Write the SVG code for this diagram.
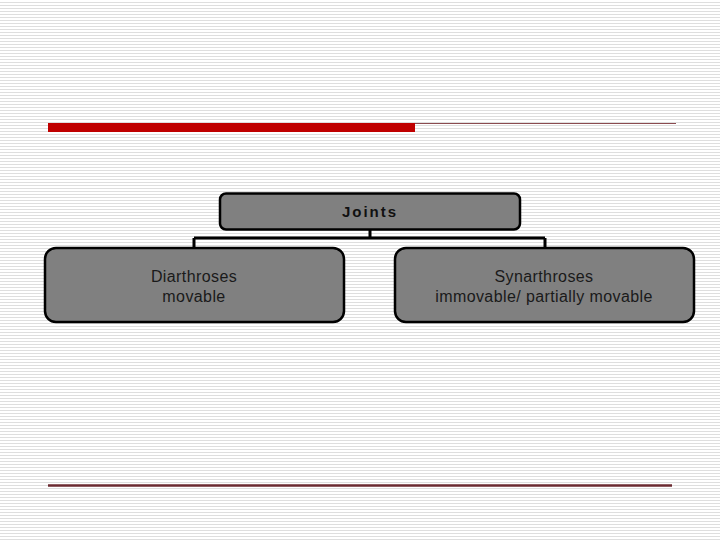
<svg xmlns="http://www.w3.org/2000/svg" width="720" height="540" viewBox="0 0 720 540">
<defs>
<pattern id="stripes" x="0" y="0" width="4" height="3" patternUnits="userSpaceOnUse">
<rect x="0" y="0" width="4" height="3" fill="#ffffff"/>
<rect x="0" y="2" width="4" height="1" fill="#dedede"/>
</pattern>
</defs>
<style>
.box{fill:#808080;stroke:#000;stroke-width:2.5}
.conn{fill:none;stroke:#000;stroke-width:3}
.t{font-family:"Liberation Sans",Arial,sans-serif;font-size:16px;fill:#1a1a1a;text-anchor:middle;letter-spacing:0.4px}
.tb{font-family:"Liberation Sans",Arial,sans-serif;font-size:15px;font-weight:bold;fill:#111;text-anchor:middle;letter-spacing:2px}
</style>
<rect width="720" height="540" fill="url(#stripes)"/>
<g id="decor">
<rect x="48" y="123" width="367" height="9" fill="#c00000"/>
<line x1="415" y1="123.5" x2="676" y2="123.5" stroke="#8a4a4f" stroke-width="1"/>
<line x1="48" y1="485.5" x2="672" y2="485.5" stroke="#6b2a30" stroke-width="2.5"/>
</g>
<g id="connectors">
<path class="conn" d="M370 230 V238 M194 238 H545 M194 238 V248 M545 238 V248"/>
</g>
<g id="joints">
<rect class="box" x="220" y="193.5" width="300" height="36" rx="6"/>
<text class="tb" x="370" y="217">Joints</text>
</g>
<g id="diarthroses">
<rect class="box" x="45" y="248" width="299" height="74" rx="11"/>
<text class="t" x="194" y="282">Diarthroses</text>
<text class="t" x="194" y="302">movable</text>
</g>
<g id="synarthroses">
<rect class="box" x="395" y="248" width="299" height="74" rx="11"/>
<text class="t" x="544" y="282">Synarthroses</text>
<text class="t" x="544" y="302">immovable/ partially movable</text>
</g>
</svg>
